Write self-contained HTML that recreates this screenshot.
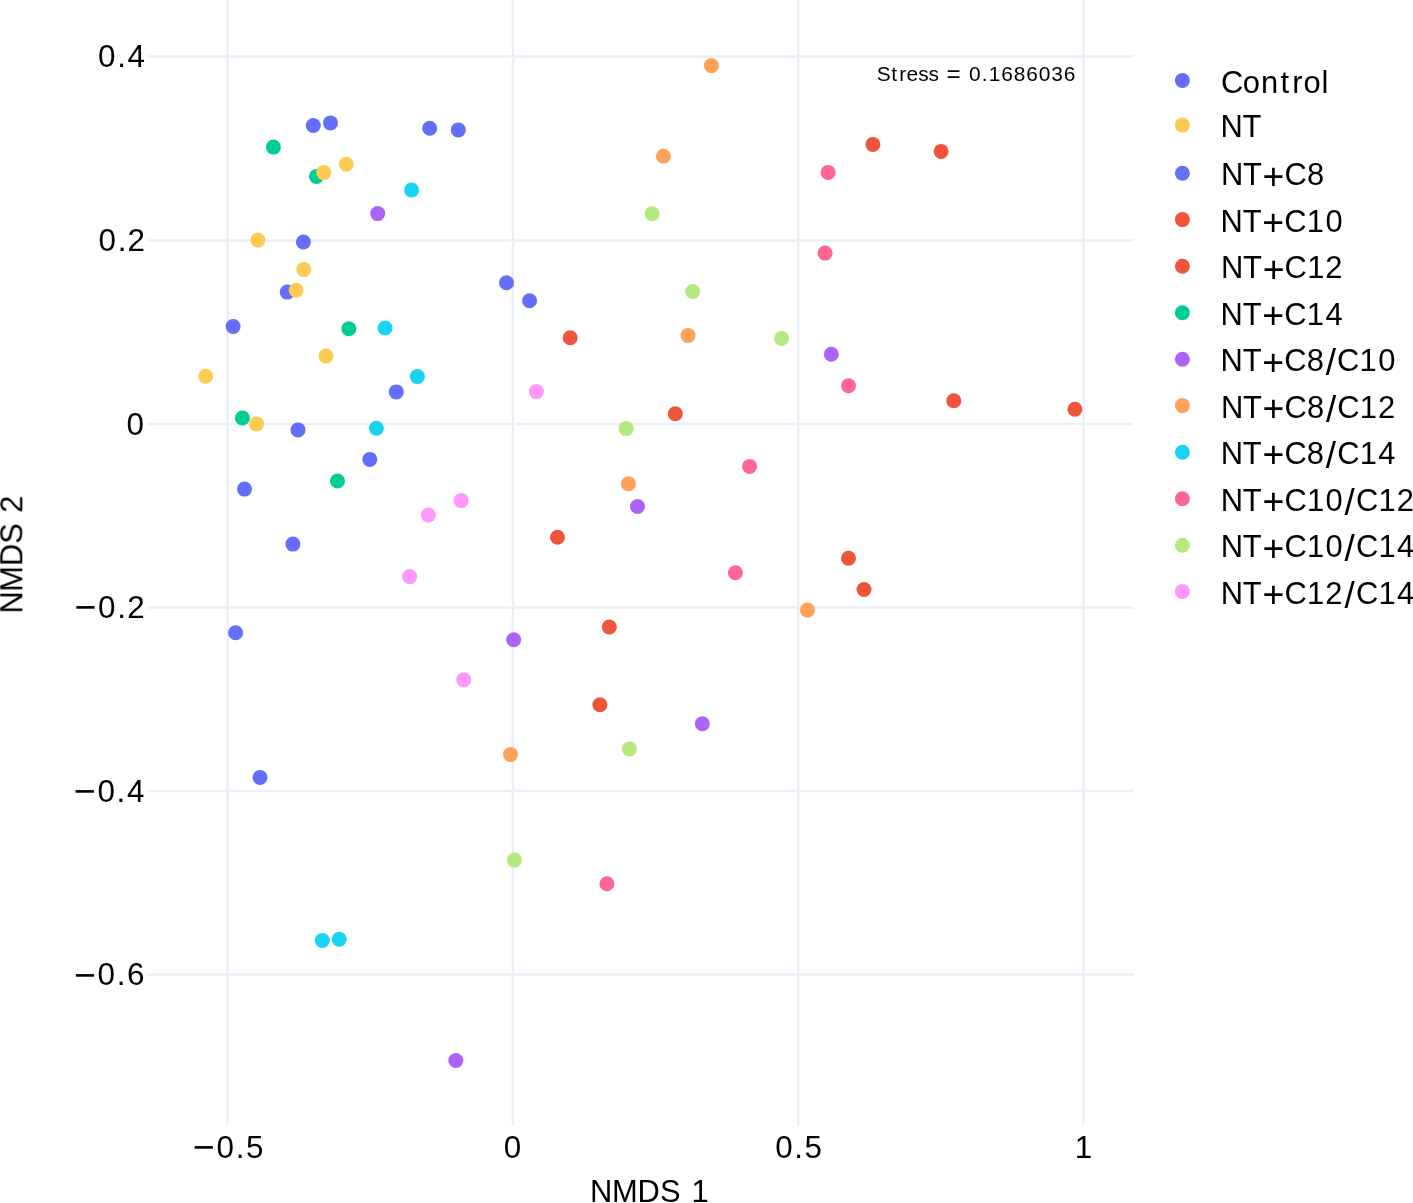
<!DOCTYPE html><html><head><meta charset="utf-8"><title>NMDS plot</title><style>
html,body{margin:0;padding:0;background:#fff;overflow:hidden;width:1413px;height:1203px;}
svg{display:block;}text{font-family:"Liberation Sans", sans-serif;fill:#000;will-change:transform;}
</style></head><body>
<svg width="1413" height="1203" viewBox="0 0 1413 1203">
<rect width="1413" height="1203" fill="#fff"/>
<path d="M227.6 0V1125.5M512.9 0V1125.5M798.2 0V1125.5M1083.6 0V1125.5M147.5 56.6H1133.4M147.5 240.4H1133.4M147.5 423.9H1133.4M147.5 607.5H1133.4M147.5 791.1H1133.4M147.5 974.6H1133.4" stroke="#EBF0F8" stroke-width="2.5" fill="none"/>
<circle cx="313.3" cy="125.5" r="7.5" fill="#636efa"/>
<circle cx="330.5" cy="122.9" r="7.5" fill="#636efa"/>
<circle cx="429.7" cy="128.2" r="7.5" fill="#636efa"/>
<circle cx="458.3" cy="129.9" r="7.5" fill="#636efa"/>
<circle cx="303.4" cy="242.0" r="7.5" fill="#636efa"/>
<circle cx="287.2" cy="292.1" r="7.5" fill="#636efa"/>
<circle cx="233.1" cy="326.5" r="7.5" fill="#636efa"/>
<circle cx="396.3" cy="391.9" r="7.5" fill="#636efa"/>
<circle cx="298.0" cy="429.9" r="7.5" fill="#636efa"/>
<circle cx="369.8" cy="459.4" r="7.5" fill="#636efa"/>
<circle cx="244.5" cy="489.1" r="7.5" fill="#636efa"/>
<circle cx="292.9" cy="544.1" r="7.5" fill="#636efa"/>
<circle cx="235.6" cy="632.8" r="7.5" fill="#636efa"/>
<circle cx="260.0" cy="777.4" r="7.5" fill="#636efa"/>
<circle cx="506.5" cy="282.8" r="7.5" fill="#636efa"/>
<circle cx="529.6" cy="300.8" r="7.5" fill="#636efa"/>
<circle cx="570.2" cy="337.7" r="7.5" fill="#EF553B"/>
<circle cx="675.3" cy="413.7" r="7.5" fill="#EF553B"/>
<circle cx="557.5" cy="537.3" r="7.5" fill="#EF553B"/>
<circle cx="609.3" cy="627.0" r="7.5" fill="#EF553B"/>
<circle cx="599.9" cy="704.8" r="7.5" fill="#EF553B"/>
<circle cx="872.9" cy="144.4" r="7.5" fill="#EF553B"/>
<circle cx="941.1" cy="151.4" r="7.5" fill="#EF553B"/>
<circle cx="953.8" cy="400.8" r="7.5" fill="#EF553B"/>
<circle cx="1074.9" cy="409.3" r="7.5" fill="#EF553B"/>
<circle cx="848.5" cy="558.3" r="7.5" fill="#EF553B"/>
<circle cx="864.0" cy="589.5" r="7.5" fill="#EF553B"/>
<circle cx="273.4" cy="147.1" r="7.5" fill="#00cc96"/>
<circle cx="316.4" cy="176.4" r="7.5" fill="#00cc96"/>
<circle cx="348.8" cy="328.8" r="7.5" fill="#00cc96"/>
<circle cx="242.4" cy="418.0" r="7.5" fill="#00cc96"/>
<circle cx="337.5" cy="481.0" r="7.5" fill="#00cc96"/>
<circle cx="377.7" cy="213.6" r="7.5" fill="#ab63fa"/>
<circle cx="637.5" cy="506.5" r="7.5" fill="#ab63fa"/>
<circle cx="513.7" cy="639.8" r="7.5" fill="#ab63fa"/>
<circle cx="702.3" cy="723.7" r="7.5" fill="#ab63fa"/>
<circle cx="831.3" cy="354.3" r="7.5" fill="#ab63fa"/>
<circle cx="455.8" cy="1060.5" r="7.5" fill="#ab63fa"/>
<circle cx="711.4" cy="65.6" r="7.5" fill="#FFA15A"/>
<circle cx="663.4" cy="156.3" r="7.5" fill="#FFA15A"/>
<circle cx="688.0" cy="335.6" r="7.5" fill="#FFA15A"/>
<circle cx="628.4" cy="483.8" r="7.5" fill="#FFA15A"/>
<circle cx="510.5" cy="754.6" r="7.5" fill="#FFA15A"/>
<circle cx="807.5" cy="610.1" r="7.5" fill="#FFA15A"/>
<circle cx="411.6" cy="190.0" r="7.5" fill="#19d3f3"/>
<circle cx="385.1" cy="328.0" r="7.5" fill="#19d3f3"/>
<circle cx="417.4" cy="376.6" r="7.5" fill="#19d3f3"/>
<circle cx="376.4" cy="428.2" r="7.5" fill="#19d3f3"/>
<circle cx="322.3" cy="940.5" r="7.5" fill="#19d3f3"/>
<circle cx="339.2" cy="939.2" r="7.5" fill="#19d3f3"/>
<circle cx="828.1" cy="172.4" r="7.5" fill="#FF6692"/>
<circle cx="825.1" cy="253.1" r="7.5" fill="#FF6692"/>
<circle cx="848.5" cy="385.7" r="7.5" fill="#FF6692"/>
<circle cx="749.6" cy="466.4" r="7.5" fill="#FF6692"/>
<circle cx="735.4" cy="572.7" r="7.5" fill="#FF6692"/>
<circle cx="606.9" cy="883.7" r="7.5" fill="#FF6692"/>
<circle cx="652.1" cy="213.8" r="7.5" fill="#B6E880"/>
<circle cx="692.7" cy="291.5" r="7.5" fill="#B6E880"/>
<circle cx="781.6" cy="338.4" r="7.5" fill="#B6E880"/>
<circle cx="626.2" cy="428.6" r="7.5" fill="#B6E880"/>
<circle cx="629.4" cy="748.9" r="7.5" fill="#B6E880"/>
<circle cx="514.4" cy="860.1" r="7.5" fill="#B6E880"/>
<circle cx="536.4" cy="391.6" r="7.5" fill="#FF97FF"/>
<circle cx="461.1" cy="500.6" r="7.5" fill="#FF97FF"/>
<circle cx="428.4" cy="515.0" r="7.5" fill="#FF97FF"/>
<circle cx="409.7" cy="576.6" r="7.5" fill="#FF97FF"/>
<circle cx="463.7" cy="679.7" r="7.5" fill="#FF97FF"/>
<circle cx="323.7" cy="172.6" r="7.5" fill="#FECB52"/>
<circle cx="346.2" cy="164.3" r="7.5" fill="#FECB52"/>
<circle cx="257.9" cy="240.1" r="7.5" fill="#FECB52"/>
<circle cx="303.8" cy="269.6" r="7.5" fill="#FECB52"/>
<circle cx="296.1" cy="290.2" r="7.5" fill="#FECB52"/>
<circle cx="326.1" cy="356.0" r="7.5" fill="#FECB52"/>
<circle cx="205.7" cy="376.2" r="7.5" fill="#FECB52"/>
<circle cx="256.6" cy="423.9" r="7.5" fill="#FECB52"/>
<circle cx="1182.4" cy="80.5" r="7.5" fill="#636efa"/>
<circle cx="1182.4" cy="125.1" r="7.5" fill="#FECB52"/>
<circle cx="1182.4" cy="173.3" r="7.5" fill="#636efa"/>
<circle cx="1182.4" cy="219.6" r="7.5" fill="#EF553B"/>
<circle cx="1182.4" cy="266.3" r="7.5" fill="#EF553B"/>
<circle cx="1182.4" cy="312.7" r="7.5" fill="#00cc96"/>
<circle cx="1182.4" cy="359.3" r="7.5" fill="#ab63fa"/>
<circle cx="1182.4" cy="405.6" r="7.5" fill="#FFA15A"/>
<circle cx="1182.4" cy="452.2" r="7.5" fill="#19d3f3"/>
<circle cx="1182.4" cy="498.8" r="7.5" fill="#FF6692"/>
<circle cx="1182.4" cy="545.3" r="7.5" fill="#B6E880"/>
<circle cx="1182.4" cy="591.6" r="7.5" fill="#FF97FF"/>
<text font-size="31.4"><tspan x="98.02 117.13 127.51" y="67.31">0.4</tspan></text>
<text font-size="31.4"><tspan x="98.52 117.63 127.62" y="251.16">0.2</tspan></text>
<text font-size="31.4"><tspan x="126.62" y="434.56">0</tspan></text>
<text font-size="31.4"><tspan x="74.41" y="620.40" font-size="37.65">−</tspan><tspan x="98.08 117.19 127.18" y="618.21">0.2</tspan></text>
<text font-size="31.4"><tspan x="73.81" y="804.00" font-size="37.65">−</tspan><tspan x="97.49 116.59 126.97" y="801.81">0.4</tspan></text>
<text font-size="31.4"><tspan x="73.91" y="987.50" font-size="37.65">−</tspan><tspan x="97.59 116.69 127.07" y="985.31">0.6</tspan></text>
<text font-size="31.4"><tspan x="192.87" y="1160.39" font-size="37.65">−</tspan><tspan x="216.55 235.65 245.92" y="1158.20">0.5</tspan></text>
<text font-size="31.4"><tspan x="503.87" y="1158.20">0</tspan></text>
<text font-size="31.4"><tspan x="775.14 794.24 804.51" y="1158.20">0.5</tspan></text>
<text font-size="31.4"><tspan x="1074.84" y="1158.20">1</tspan></text>
<text font-size="30.9"><tspan x="589.93 611.88 637.43 659.88 680.13 691.41" y="1201.70">NMDS 1</tspan></text>
<text transform="translate(22.30,610.80) rotate(-90)" font-size="30.9"><tspan x="-2.86 19.09 44.64 67.09 87.34 98.10" y="0.00">NMDS 2</tspan></text>
<text font-size="20.9"><tspan x="876.68 891.20 899.16 906.53 918.21 928.46 938.68" y="80.80">Stress </tspan><tspan x="946.55" y="81.91" font-size="24.30">=</tspan><tspan x="961.69 969.05 981.79 988.81 1001.23 1013.74 1026.25 1038.76 1051.30 1063.78" y="80.80"> 0.1686036</tspan></text>
<text font-size="30.9"><tspan x="1220.92 1242.84 1261.11 1280.42 1292.37 1303.48 1321.55" y="92.50">Control</tspan></text>
<text font-size="30.9"><tspan x="1220.47 1242.49" y="137.10">NT</tspan></text>
<text font-size="30.9"><tspan x="1220.88 1242.91" y="185.30">NT</tspan><tspan x="1262.61" y="188.59" font-size="37.38">+</tspan><tspan x="1284.52 1306.92" y="185.30">C8</tspan></text>
<text font-size="30.9"><tspan x="1220.62 1242.65" y="231.60">NT</tspan><tspan x="1262.35" y="234.89" font-size="37.38">+</tspan><tspan x="1284.26 1306.80 1325.42" y="231.60">C10</tspan></text>
<text font-size="30.9"><tspan x="1220.97 1243.00" y="278.30">NT</tspan><tspan x="1262.70" y="281.59" font-size="37.38">+</tspan><tspan x="1284.61 1307.14 1325.37" y="278.30">C12</tspan></text>
<text font-size="30.9"><tspan x="1220.62 1242.65" y="324.70">NT</tspan><tspan x="1262.35" y="327.99" font-size="37.38">+</tspan><tspan x="1284.26 1306.80 1325.41" y="324.70">C14</tspan></text>
<text font-size="30.9"><tspan x="1220.60 1242.63" y="371.30">NT</tspan><tspan x="1262.33" y="374.59" font-size="37.38">+</tspan><tspan x="1284.24 1306.64" y="371.30">C8</tspan><tspan x="1325.70" y="375.25" font-size="36.80">/</tspan><tspan x="1336.99 1359.52 1378.14" y="371.30">C10</tspan></text>
<text font-size="30.9"><tspan x="1220.90 1242.92" y="417.60">NT</tspan><tspan x="1262.62" y="420.89" font-size="37.38">+</tspan><tspan x="1284.54 1306.94" y="417.60">C8</tspan><tspan x="1326.00" y="421.55" font-size="36.80">/</tspan><tspan x="1337.28 1359.82 1378.05" y="417.60">C12</tspan></text>
<text font-size="30.9"><tspan x="1220.75 1242.78" y="464.20">NT</tspan><tspan x="1262.48" y="467.49" font-size="37.38">+</tspan><tspan x="1284.39 1306.79" y="464.20">C8</tspan><tspan x="1325.85" y="468.15" font-size="36.80">/</tspan><tspan x="1337.14 1359.67 1378.29" y="464.20">C14</tspan></text>
<text font-size="30.9"><tspan x="1220.76 1242.79" y="510.80">NT</tspan><tspan x="1262.49" y="514.09" font-size="37.38">+</tspan><tspan x="1284.40 1306.93 1325.55" y="510.80">C10</tspan><tspan x="1344.61" y="514.75" font-size="36.80">/</tspan><tspan x="1355.90 1378.43 1396.66" y="510.80">C12</tspan></text>
<text font-size="30.9"><tspan x="1220.76 1242.79" y="557.30">NT</tspan><tspan x="1262.49" y="560.59" font-size="37.38">+</tspan><tspan x="1284.40 1306.93 1325.55" y="557.30">C10</tspan><tspan x="1344.61" y="561.25" font-size="36.80">/</tspan><tspan x="1355.90 1378.43 1397.05" y="557.30">C14</tspan></text>
<text font-size="30.9"><tspan x="1220.76 1242.79" y="603.60">NT</tspan><tspan x="1262.49" y="606.89" font-size="37.38">+</tspan><tspan x="1284.40 1306.93 1325.16" y="603.60">C12</tspan><tspan x="1344.61" y="607.55" font-size="36.80">/</tspan><tspan x="1355.90 1378.43 1397.05" y="603.60">C14</tspan></text>
</svg></body></html>
